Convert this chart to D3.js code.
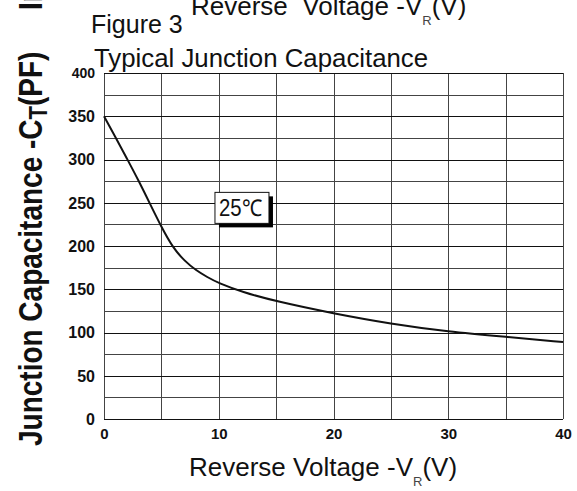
<!DOCTYPE html>
<html>
<head>
<meta charset="utf-8">
<script src="https://cdn.jsdelivr.net/npm/d3@7"></script>
<style>
  body { margin: 0; background: #fff; }
  svg { display: block; }
</style>
</head>
<body>
<div id="chart"></div>
<script>
// values (reverse voltage V, capacitance pF)
var voltage = [0, 1, 2, 3, 4, 5, 6, 7, 8, 9, 10, 12, 15, 20, 25, 30, 35, 40];
var capacitance = [350, 326, 301, 276, 249, 222, 198, 183, 172, 164, 157, 147, 136, 122, 110, 101, 95, 89];
var xTicks = [0, 10, 20, 30, 40];
var yTicks = [0, 50, 100, 150, 200, 250, 300, 350, 400];
var tempLabel = "25℃";

var W = 577, H = 491;
var margin = { top: 73, right: 14, bottom: 72, left: 104 };
var font = "'Liberation Sans', Arial, sans-serif";

var svg = d3.select("#chart").append("svg")
    .attr("width", W)
    .attr("height", H);

var x = d3.scaleLinear().domain([0, 40]).range([margin.left, W - margin.right]);
var y = d3.scaleLinear().domain([0, 400]).range([H - margin.bottom, margin.top]);

// grid, every 5 V and every 25 pF
var grid = svg.append("g").attr("shape-rendering", "crispEdges");
grid.selectAll(".vg")
    .data(d3.range(0, 41, 5))
    .join("line")
    .attr("x1", d => Math.round(x(d)) + 0.5).attr("x2", d => Math.round(x(d)) + 0.5)
    .attr("y1", y(400)).attr("y2", y(0))
    .attr("stroke", "#444")
    .attr("stroke-width", 1.3);
grid.selectAll(".hg")
    .data(d3.range(0, 401, 25))
    .join("line")
    .attr("x1", x(0)).attr("x2", x(40))
    .attr("y1", d => Math.round(y(d)) + 0.5).attr("y2", d => Math.round(y(d)) + 0.5)
    .attr("stroke", d => d % 50 == 0 ? "#111" : "#444")
    .attr("stroke-width", 1.3);

// x axis labels
var xAxis = svg.append("g")
    .attr("transform", "translate(0," + (y(0) + 6) + ")")
    .call(d3.axisBottom(x).tickValues(xTicks).tickSize(0).tickFormat(d3.format("d")));
xAxis.select(".domain").remove();
xAxis.selectAll("text")
    .attr("font-family", font)
    .attr("font-weight", "bold")
    .attr("font-size", 15)
    .attr("fill", "#111");

// y axis labels
var yAxis = svg.append("g")
    .attr("transform", "translate(" + (x(0) - 6) + ",0)")
    .call(d3.axisLeft(y).tickValues(yTicks).tickSize(0).tickFormat(d3.format("d")));
yAxis.select(".domain").remove();
yAxis.selectAll("text")
    .attr("font-family", font)
    .attr("font-weight", "bold")
    .attr("font-size", d => d == 400 ? 14 : 16)
    .attr("dy", "0.34em")
    .attr("fill", "#111");

// the curve
svg.append("path")
    .datum(voltage.map((v, i) => [v, capacitance[i]]))
    .attr("fill", "none")
    .attr("stroke", "#111")
    .attr("stroke-width", 2)
    .attr("d", d3.line()
        .x(d => x(d[0]))
        .y(d => y(d[1]))
        .curve(d3.curveBasis));

// 25C box with shadow
var bx = x(9.67), by = y(262), bw = 54, bh = 31;
svg.append("rect")
    .attr("x", bx + 4).attr("y", by + 4)
    .attr("width", bw).attr("height", bh)
    .attr("fill", "#000");
svg.append("rect")
    .attr("x", bx).attr("y", by)
    .attr("width", bw).attr("height", bh)
    .attr("fill", "#fff")
    .attr("stroke", "#111")
    .attr("stroke-width", 1);
svg.append("text")
    .attr("x", bx + 4).attr("y", by + 24)
    .attr("font-family", font)
    .attr("font-size", 23)
    .attr("textLength", 43)
    .attr("lengthAdjust", "spacingAndGlyphs")
    .attr("fill", "#111")
    .text(tempLabel);

// titles
function voltageLabel(sel, tx, ty, label) {
    var t = sel.append("text")
        .attr("x", tx).attr("y", ty)
        .attr("font-family", font)
        .attr("font-size", 26)
        .attr("fill", "#111")
        .style("white-space", "pre");
    t.append("tspan").text(label);
    t.append("tspan").attr("font-size", 13).attr("fill", "#444").attr("dy", 10).text("R");
    t.append("tspan").attr("dy", -10).text("(V)");
}
voltageLabel(svg, 189, 476, "Reverse Voltage -V");
voltageLabel(svg, 191, 15, "Reverse  Voltage -V");

svg.append("text")
    .attr("x", 91).attr("y", 33)
    .attr("font-family", font)
    .attr("font-size", 25)
    .attr("fill", "#111")
    .text("Figure 3");

svg.append("text")
    .attr("x", 94).attr("y", 67)
    .attr("font-family", font)
    .attr("font-size", 25.8)
    .attr("fill", "#111")
    .text("Typical Junction Capacitance");

// rotated y title
var yt = svg.append("text")
    .attr("transform", "translate(42,446) rotate(-90) scale(1,1.2)")
    .attr("font-family", font)
    .attr("font-weight", "bold")
    .attr("font-size", 28)
    .attr("fill", "#111");
yt.append("tspan").text("Junction Capacitance -C");
yt.append("tspan").attr("font-size", 22).attr("dy", 4).text("T");
yt.append("tspan").attr("dy", -4).text("(PF)");

// leftover label from the neighbouring figure, cut off at the top
svg.append("text")
    .attr("transform", "translate(42,10) rotate(-90) scale(1,1.2)")
    .attr("font-family", font)
    .attr("font-weight", "bold")
    .attr("font-size", 28)
    .attr("fill", "#111")
    .text("Instantaneous Forward Current");
</script>
</body>
</html>
